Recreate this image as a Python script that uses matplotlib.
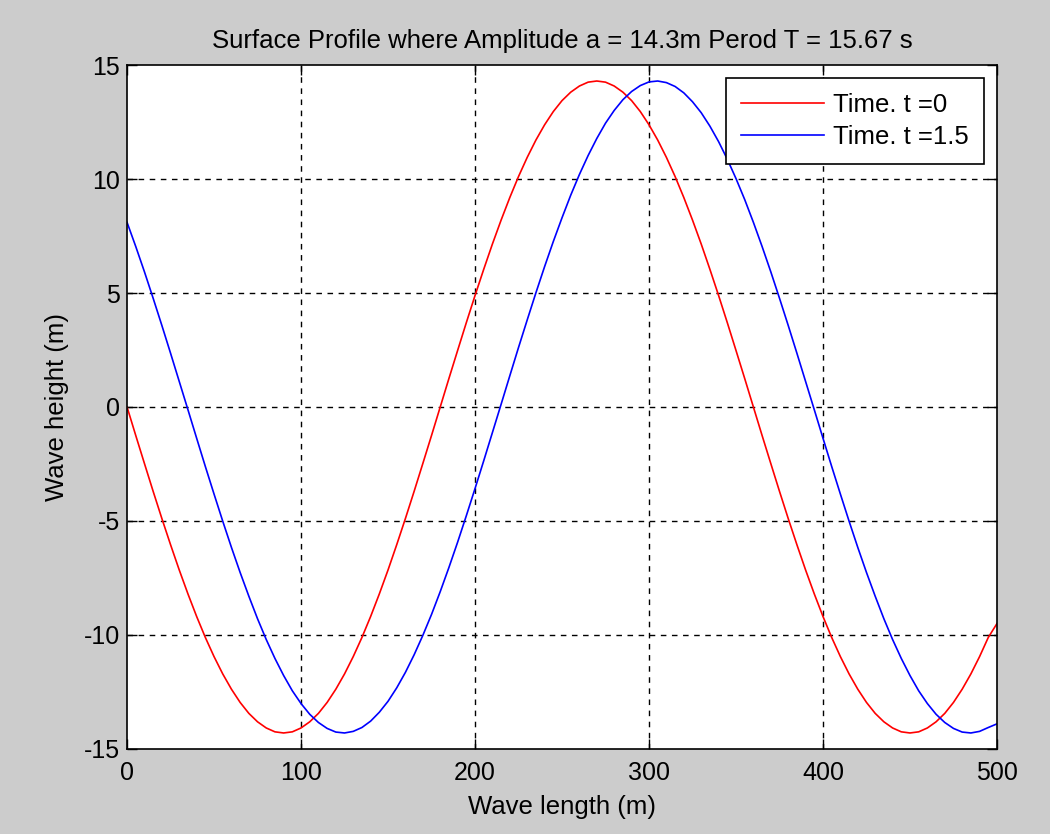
import numpy as np
import matplotlib.pyplot as plt

plt.rcParams['font.family'] = ['Liberation Sans', 'DejaVu Sans']
plt.rcParams['axes.unicode_minus'] = False

# distance along the wave (m), every 5 m
x = np.arange(0, 501, 5)

# surface elevation at t = 0 s
eta_t0 = [0.0, -1.25, -2.48, -3.70, -4.89, -6.04, -7.15, -8.20, -9.19, -10.11,
          -10.95, -11.71, -12.38, -12.96, -13.44, -13.81, -14.08, -14.25, -14.3, -14.25,
          -14.08, -13.81, -13.44, -12.96, -12.38, -11.71, -10.95, -10.11, -9.19, -8.20,
          -7.15, -6.04, -4.89, -3.70, -2.48, -1.25, 0.0,
          1.25, 2.48, 3.70, 4.89, 6.04, 7.15, 8.20, 9.19, 10.11,
          10.95, 11.71, 12.38, 12.96, 13.44, 13.81, 14.08, 14.25, 14.3, 14.25,
          14.08, 13.81, 13.44, 12.96, 12.38, 11.71, 10.95, 10.11, 9.19, 8.20,
          7.15, 6.04, 4.89, 3.70, 2.48, 1.25, 0.0,
          -1.25, -2.48, -3.70, -4.89, -6.04, -7.15, -8.20, -9.19, -10.11,
          -10.95, -11.71, -12.38, -12.96, -13.44, -13.81, -14.08, -14.25, -14.3, -14.25,
          -14.08, -13.81, -13.44, -12.96, -12.38, -11.71, -10.95, -10.11, -9.5]

# surface elevation at t = 1.5 s
eta_t15 = [8.10, 7.04, 5.93, 4.77, 3.58, 2.36, 1.12, -0.12, -1.37, -2.61,
           -3.82, -5.01, -6.16, -7.26, -8.30, -9.29, -10.20, -11.03, -11.78, -12.45,
           -13.01, -13.48, -13.84, -14.10, -14.26, -14.30, -14.23, -14.06, -13.78, -13.39,
           -12.91, -12.32, -11.64, -10.87, -10.02, -9.10, -8.10, -7.04, -5.93, -4.77,
           -3.58, -2.36, -1.12, 0.12, 1.37, 2.61, 3.82, 5.01, 6.16, 7.26,
           8.30, 9.29, 10.20, 11.03, 11.78, 12.45, 13.01, 13.48, 13.84, 14.10,
           14.26, 14.30, 14.23, 14.06, 13.78, 13.39, 12.91, 12.32, 11.64, 10.87,
           10.02, 9.10, 8.10, 7.04, 5.93, 4.77, 3.58, 2.36, 1.12, -0.12,
           -1.37, -2.61, -3.82, -5.01, -6.16, -7.26, -8.30, -9.29, -10.20, -11.03,
           -11.78, -12.45, -13.01, -13.48, -13.84, -14.10, -14.26, -14.30, -14.23, -14.06,
           -13.9]

fig = plt.figure(figsize=(10.5, 8.34), dpi=100, facecolor='#cccccc')
ax = fig.add_axes([0.121, 0.102, 0.8285, 0.82])

ax.plot(x, eta_t0, color='#ff0000', lw=1.2, label='Time. t =0')
ax.plot(x, eta_t15, color='#0000ff', lw=1.2, label='Time. t =1.5')

ax.set_xlim(0, 500)
ax.set_ylim(-15, 15)
ax.set_xticks(np.arange(0, 501, 100))
ax.set_yticks(np.arange(-15, 16, 5))
ax.grid(True, color='black', linestyle=(0, (4, 4)), lw=1)
# no grid line on top of the box edges
for gl in (ax.get_xgridlines()[0], ax.get_xgridlines()[-1],
           ax.get_ygridlines()[0], ax.get_ygridlines()[-1]):
    gl.set_visible(False)
ax.tick_params(direction='in', top=True, right=True, length=7, width=1,
               labelsize=18, pad=5)
ax.tick_params(axis='x', pad=9)
for s in ax.spines.values():
    s.set_linewidth(1.2)

ax.set_title('Surface Profile where Amplitude a = 14.3m Perod T = 15.67 s',
             fontsize=18.5, pad=12)
ax.set_xlabel('Wave length (m)', fontsize=18.5, labelpad=7)
ax.set_ylabel('Wave height (m)', fontsize=18.5, labelpad=11)

leg = ax.legend(loc='upper right', fontsize=18.5, fancybox=False, framealpha=1,
                edgecolor='black', handlelength=3.2, handletextpad=0.36,
                borderpad=0.6, labelspacing=0.3, borderaxespad=0.5)
leg.get_frame().set_linewidth(1.2)

fig.savefig('out.png', dpi=100, facecolor=fig.get_facecolor())
